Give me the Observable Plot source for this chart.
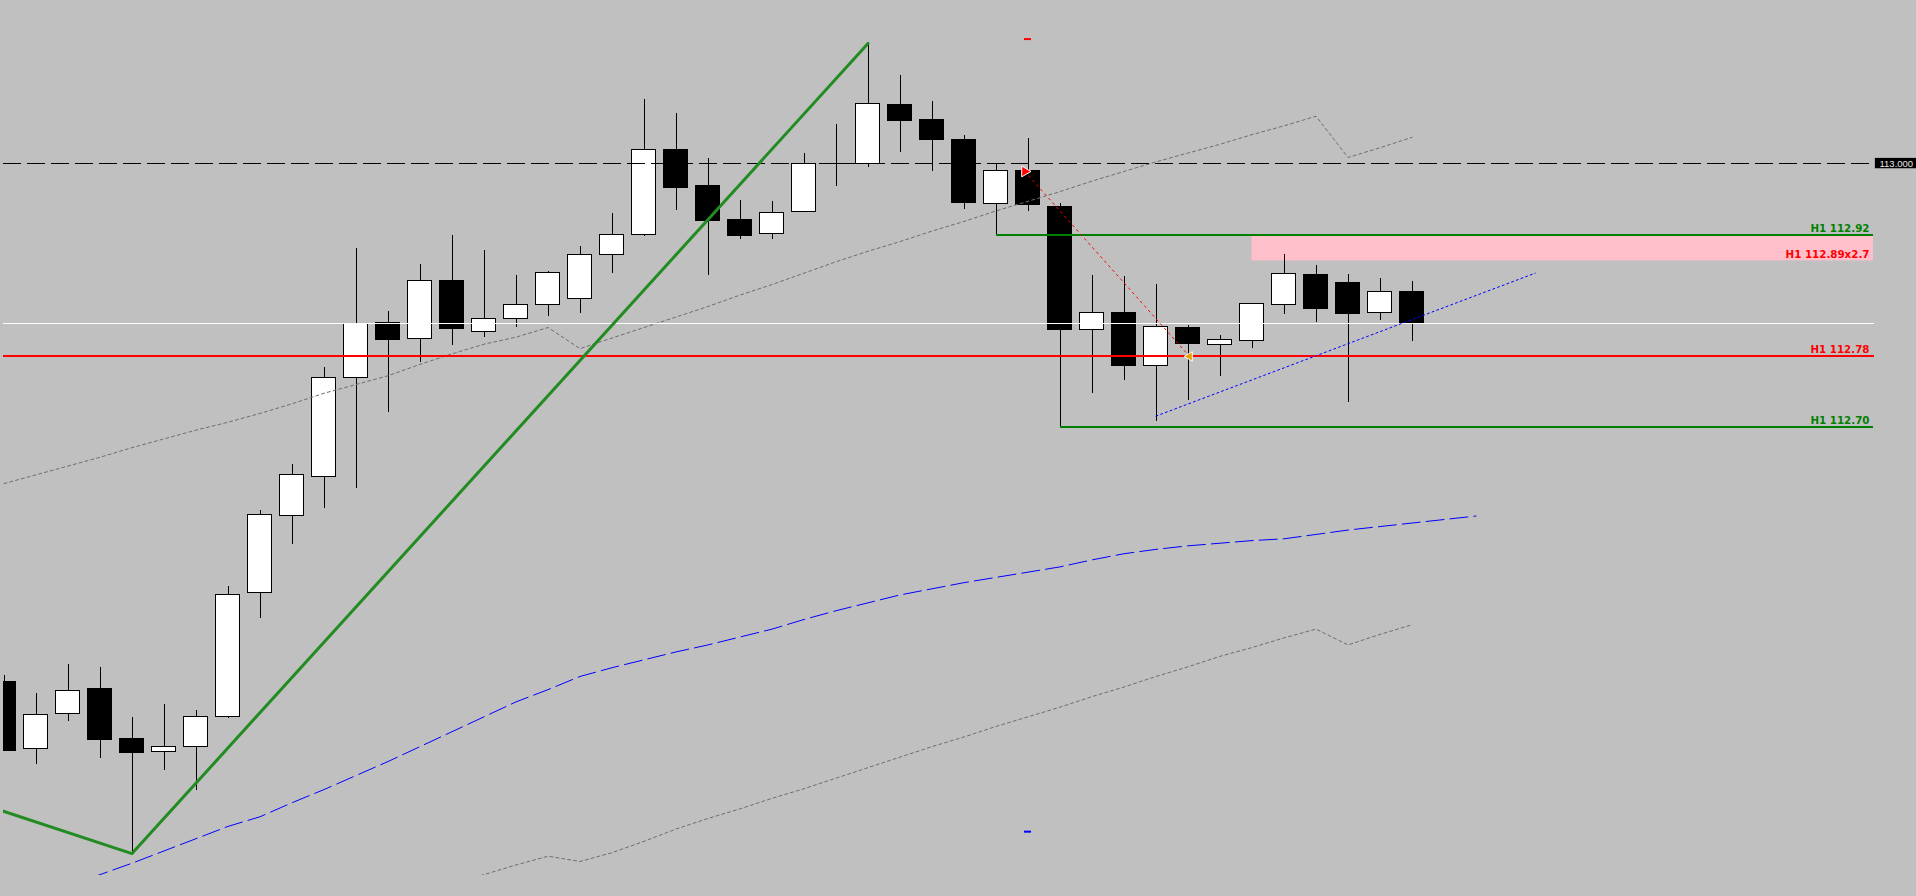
<!DOCTYPE html>
<html><head><meta charset="utf-8">
<style>
html,body{margin:0;padding:0;background:#c0c0c0;overflow:hidden}
svg{display:block}
</style>
<script src="https://cdn.jsdelivr.net/npm/d3@7"></script>
<script src="https://cdn.jsdelivr.net/npm/@observablehq/plot@0.6"></script>
</head><body><div id="chart"></div>
<script>
// ---- H1 candles (bar index 0..44) ----
const opens  = [112.409,112.332,112.372,112.401,112.344,112.329,112.334,112.369,112.510,112.598,112.643,112.756,112.818,112.800,112.866,112.808,112.823,112.839,112.845,112.896,112.919,113.016,112.974,112.936,112.920,112.945,113.000,113.000,113.067,113.050,113.027,112.954,112.991,112.951,112.810,112.830,112.769,112.813,112.793,112.798,112.839,112.873,112.864,112.830,112.853];
const highs  = [112.416,112.396,112.429,112.425,112.368,112.383,112.376,112.518,112.604,112.657,112.767,112.903,112.831,112.885,112.918,112.901,112.872,112.877,112.905,112.943,113.073,113.057,113.006,112.958,112.957,113.011,113.045,113.137,113.100,113.071,113.032,113.000,113.029,112.954,112.872,112.871,112.862,112.815,112.804,112.840,112.896,112.884,112.873,112.869,112.865];
const lows   = [112.329,112.315,112.364,112.321,112.213,112.308,112.285,112.367,112.481,112.565,112.607,112.629,112.716,112.773,112.792,112.802,112.813,112.826,112.829,112.875,112.917,112.946,112.872,112.913,112.913,112.945,112.974,112.996,113.013,112.991,112.948,112.919,112.945,112.700,112.738,112.753,112.706,112.730,112.757,112.789,112.828,112.819,112.727,112.821,112.797];
const closes = [112.330,112.371,112.399,112.343,112.328,112.334,112.369,112.508,112.599,112.645,112.755,112.817,112.799,112.866,112.811,112.823,112.839,112.875,112.896,112.919,113.016,112.972,112.934,112.917,112.944,113.000,113.000,113.068,113.048,113.027,112.955,112.992,112.953,112.810,112.830,112.769,112.814,112.794,112.799,112.840,112.874,112.834,112.829,112.854,112.818];

// ---- envelope (gray dotted) ----
const upperStart = 0;
const upperBand = [112.635,112.645,112.655,112.665,112.676,112.686,112.696,112.705,112.715,112.726,112.738,112.748,112.758,112.771,112.783,112.794,112.802,112.813,112.789,112.801,112.813,112.825,112.837,112.850,112.862,112.875,112.888,112.900,112.911,112.923,112.934,112.946,112.957,112.968,112.980,112.991,113.002,113.012,113.022,113.033,113.043,113.054,113.007,113.018,113.030];
const lowerStart = 14;
const lowerBand = [112.178,112.189,112.200,112.210,112.204,112.214,112.227,112.241,112.253,112.264,112.276,112.287,112.299,112.311,112.323,112.335,112.346,112.358,112.369,112.380,112.392,112.403,112.415,112.426,112.438,112.448,112.459,112.469,112.451,112.463,112.474];

// ---- moving average (blue dashed, shifted) ----
const maStart = 2;
const maValues = [112.175,112.189,112.202,112.216,112.230,112.244,112.255,112.271,112.286,112.302,112.318,112.335,112.352,112.369,112.386,112.400,112.415,112.425,112.434,112.443,112.451,112.460,112.469,112.480,112.490,112.499,112.508,112.515,112.522,112.528,112.534,112.540,112.548,112.555,112.560,112.564,112.567,112.570,112.572,112.577,112.582,112.586,112.590,112.594,112.598];

// ---- zigzag ----
const zigzagBars = [-1, 4, 27];
const zigzagPrices = [112.273, 112.213, 113.137];

// ---- trend line (blue dotted) ----
const trendBars = [36, 47.85];
const trendPrices = [112.712, 112.875];

// ---- trade (red dotted) ----
const tradeBars = [31.9, 37.05];
const tradePrices = [112.991, 112.780];
const slPrice = 113.142, tpPrice = 112.238, orderBar = 32;

// ---- levels ----
const roundLevel = 113.000;
const levelNames  = ["H1 112.92", "H1 112.89x2.7", "H1 112.78", "H1 112.70"];
const levelPrices = [112.919, 112.889, 112.780, 112.700];
const levelColors = ["#008000", "#ff0000", "#ff0000", "#008000"];
const zoneTop = 112.917, zoneBottom = 112.889, zoneStartBar = 39;
const greenStartBars = [31, 33];

// ---------------------------------------------
const candles = opens.map((o, i) => ({i, o, h: highs[i], l: lows[i], c: closes[i]}));
const bull = candles.filter(d => d.c > d.o);
const bear = candles.filter(d => d.c < d.o);
const doji = candles.filter(d => d.c === d.o);
const bidPrice = closes[closes.length - 1];
const upper = upperBand.map((v, k) => ({i: upperStart + k, v}));
const lower = lowerBand.map((v, k) => ({i: lowerStart + k, v}));
const ma = maValues.map((v, k) => ({i: maStart + k, v}));
const zig = zigzagBars.map((b, k) => ({i: b, v: zigzagPrices[k]}));
const trend = trendBars.map((b, k) => ({i: b, v: trendPrices[k]}));
const trade = tradeBars.map((b, k) => ({i: b, v: tradePrices[k]}));
const levels = levelNames.map((t, k) => ({t, p: levelPrices[k], c: levelColors[k]}));

const xDomain = [-0.015625, 58.453125];
const lineEnd = 58.42;
const hw = 0.375;              // half body width in bars
const tagX1 = 58.48, tagX2 = 59.8;

const chart = Plot.plot({
  width: 1916, height: 896,
  marginLeft: 3, marginRight: 42, marginTop: 0, marginBottom: 21,
  style: {background: "#c0c0c0", overflow: "visible"},
  x: {type: "linear", domain: xDomain, axis: null},
  y: {domain: [112.188, 113.186], axis: null},
  color: {type: "identity"},
  marks: [
    // supply zone
    Plot.rect([0], {x1: () => zoneStartBar, x2: () => lineEnd, y1: () => zoneBottom, y2: () => zoneTop, fill: "#ffc0cb"}),
    // wicks
    Plot.ruleX(candles, {x: "i", y1: "l", y2: "h", stroke: "black", strokeWidth: 1, clip: true, shapeRendering: "crispEdges"}),
    // bodies
    Plot.rect(bull, {x1: d => d.i - hw, x2: d => d.i + hw, y1: "o", y2: "c", fill: "white", stroke: "black", strokeWidth: 1, clip: true, shapeRendering: "crispEdges"}),
    Plot.rect(bear, {x1: d => d.i - hw, x2: d => d.i + hw, y1: "o", y2: "c", fill: "black", stroke: "black", strokeWidth: 1, clip: true, shapeRendering: "crispEdges"}),
    Plot.ruleY(doji, {y: "o", x1: d => d.i - hw, x2: d => d.i + hw, stroke: "black", strokeWidth: 1, shapeRendering: "crispEdges"}),
    // envelope
    Plot.line(upper, {x: "i", y: "v", stroke: "#6e6e6e", strokeWidth: 1, strokeDasharray: "3,3", clip: true}),
    Plot.line(lower, {x: "i", y: "v", stroke: "#6e6e6e", strokeWidth: 1, strokeDasharray: "3,3", clip: true}),
    // moving average
    Plot.line(ma, {x: "i", y: "v", stroke: "#0000ff", strokeWidth: 1, strokeDasharray: "18,6", clip: true}),
    // horizontal lines
    Plot.ruleY([roundLevel], {stroke: "black", strokeWidth: 1, strokeDasharray: "18,6", shapeRendering: "crispEdges"}),
    Plot.ruleY([bidPrice], {stroke: "white", strokeWidth: 1, shapeRendering: "crispEdges"}),
    Plot.ruleY([levelPrices[2]], {stroke: "#ff0000", strokeWidth: 2, shapeRendering: "crispEdges"}),
    Plot.ruleY([levelPrices[0], levelPrices[3]], {y: d => d, x1: (d, k) => greenStartBars[k], x2: () => lineEnd, stroke: "#008000", strokeWidth: 2, shapeRendering: "crispEdges"}),
    // zigzag
    Plot.line(zig, {x: "i", y: "v", stroke: "#228b22", strokeWidth: 3, clip: true}),
    // trend line
    Plot.line(trend, {x: "i", y: "v", stroke: "#0000ff", strokeWidth: 1, strokeDasharray: "2,3"}),
    // trade
    Plot.line(trade, {x: "i", y: "v", stroke: "#ff0000", strokeWidth: 1, strokeDasharray: "2,4"}),
    Plot.dot(trade.slice(0, 1), {x: "i", y: "v", symbol: "triangle", rotate: 90, r: 4, fill: "#ff0000", stroke: "white", strokeWidth: 1}),
    Plot.dot(trade.slice(1), {x: "i", y: "v", symbol: "triangle", rotate: -90, r: 3.5, fill: "#e8a000", stroke: "white", strokeWidth: 1}),
    Plot.ruleY([slPrice, tpPrice], {y: d => d, x1: () => orderBar - 0.11, x2: () => orderBar + 0.11, stroke: (d, k) => k === 0 ? "#ff0000" : "#0000ff", strokeWidth: 2}),
    // level labels
    Plot.text(levels, {y: "p", text: "t", fill: "c", frameAnchor: "right", textAnchor: "end", lineAnchor: "bottom", dx: -5, dy: -3, fontFamily: "DejaVu Sans", fontWeight: "bold", fontSize: 10.3}),
    // price tag
    Plot.rect([roundLevel], {x1: () => tagX1, x2: () => tagX2, y1: d => d - 0.0059, y2: d => d + 0.0059, fill: "black"}),
    Plot.text([roundLevel], {y: d => d, text: d => d.toFixed(3), frameAnchor: "right", textAnchor: "start", lineAnchor: "middle", dx: 5, fill: "#e6e6e6", fontFamily: "Liberation Sans", fontSize: 9.5})
  ]
});
document.getElementById("chart").appendChild(chart);
</script>
</body></html>
